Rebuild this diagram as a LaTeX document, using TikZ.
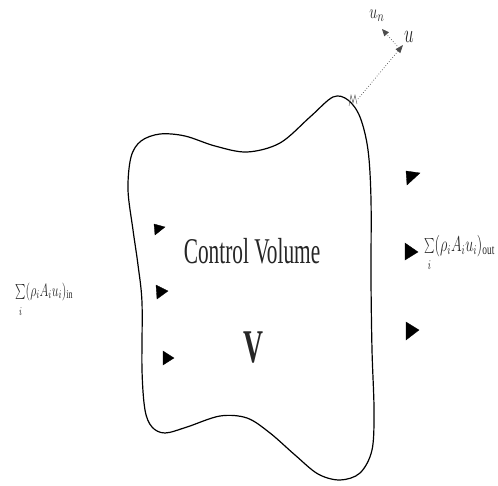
\documentclass[tikz,border=0pt]{standalone}
\usepackage{fontspec}
\setmainfont{Liberation Serif}
\usetikzlibrary{arrows.meta}
\tikzset{
  head/.style={fill=black, draw=black, line width=0.3pt},
  lbl/.style={inner sep=0pt, text=black!85},
  flowline/.style={dotted, line width=0.7pt, black!70}
}
\newcommand{\lowi}{\raisebox{-5bp}{$\scriptstyle i$}}
\begin{document}
\begin{tikzpicture}[x=1bp, y=-1bp]
\useasboundingbox (0,0) rectangle (498,486);
% control volume outline
\draw[line width=1.2pt] plot[smooth cycle, tension=0.55] coordinates {
 (128,190) (131,157) (141,141) (160,134) (185,136) (215,146) (247,152)
 (280,143) (310,117) (333,97) (348,100) (360,117) (368,150) (371,200)
 (371,280) (372,350) (374,410) (372,450) (360,473) (340,480) (318,474)
 (295,455) (270,433) (247,418) (220,416) (187,427) (165,433) (152,427)
 (145,410) (142,370) (142,303) (138,265) (133,230)};
% texts
\node[lbl, anchor=base] (cv) at (252,263)
  {\scalebox{1}[1.7]{\fontsize{21.4}{24}\selectfont Control Volume}};
\node[lbl, anchor=base] (vol) at (253,362)
  {\scalebox{1}[1.7]{\fontsize{27.7}{30}\selectfont\bfseries V}};
\node[lbl, anchor=base west] (fin) at (15,296)
  {\scalebox{1}[1.5]{\fontsize{11.5}{14}\selectfont $\sum\limits_{\lowi}(\rho_i A_i u_i)_{\mathrm{in}}$}};
\node[lbl, anchor=base west] (fout) at (424,251)
  {\scalebox{1}[1.5]{\fontsize{13.5}{16}\selectfont $\sum\limits_{\lowi}(\rho_i A_i u_i)_{\mathrm{out}}$}};
\node[lbl] (lu) at (409,37) {\scalebox{1}[1.5]{\fontsize{16}{18}\selectfont $u$}};
\node[lbl] (lun) at (377,16) {\scalebox{1}[1.4]{\fontsize{15}{17}\selectfont $u_n$}};
% velocity vectors
\coordinate (s) at (358,99);
\coordinate (tu) at (403,45);
\coordinate (tn) at (382,29);
\coordinate (base) at (397,46);
\draw[flowline, -{Triangle[length=8bp,width=6bp]}] (s) -- (tu);
\draw[flowline, -{Triangle[length=7bp,width=6bp]}] (base) -- (tn);
\draw[line width=0.4pt, black!70] (349,106) -- (351,95) -- (353,103) -- (355,95) -- (357,104);
% inflow arrowheads
\fill[head] (154,224) -- (165,227) -- (155,235) -- cycle;
\fill[head] (156,285) -- (168,291) -- (157,299) -- cycle;
\fill[head] (163,351) -- (174,358) -- (163,365) -- cycle;
% outflow arrowheads
\fill[head] (406,171) -- (420,173) -- (407,185) -- cycle;
\fill[head] (405,243) -- (418,252) -- (405,260) -- cycle;
\fill[head] (406,322) -- (419,330) -- (406,340) -- cycle;
\end{tikzpicture}
\end{document}
